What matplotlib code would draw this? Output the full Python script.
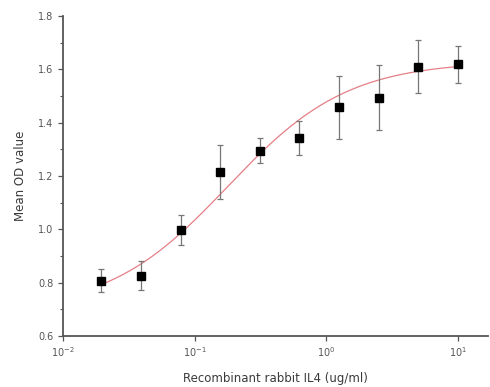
import matplotlib

matplotlib.use("Agg")
import matplotlib.pyplot as plt  # noqa: E402
import numpy as np  # noqa: E402
from matplotlib.ticker import FixedLocator, MultipleLocator  # noqa: E402

# measured points (concentration in ug/ml, mean OD, error)
conc = [0.0195, 0.039, 0.078, 0.156, 0.3125, 0.625, 1.25, 2.5, 5.0, 10.0]
mean_od = [0.807, 0.826, 0.997, 1.215, 1.295, 1.342, 1.457, 1.493, 1.610, 1.618]
od_err = [0.044, 0.054, 0.055, 0.100, 0.047, 0.064, 0.118, 0.122, 0.099, 0.068]

# 4-parameter logistic fit
fit_bottom = 0.69
fit_top = 1.63
fit_x0 = 0.178
fit_p = 0.95

xtick_vals = [0.01, 0.1, 1, 10]
xtick_labels = ["10$^{-2}$", "10$^{-1}$", "10$^{0}$", "10$^{1}$"]

fig = plt.figure(figsize=(4.9, 3.87), dpi=100)
ax = fig.add_axes([0.129, 0.132, 0.867, 0.827])

xs = np.logspace(np.log10(conc[0]), np.log10(conc[-1]), 200)
ys = fit_top + (fit_bottom - fit_top) / (1 + (xs / fit_x0) ** fit_p)
ax.plot(xs, ys, color="#e57f86", lw=0.9, zorder=2)

ax.errorbar(conc, mean_od, yerr=od_err, fmt="none", ecolor="#777777",
            elinewidth=0.9, capsize=2.5, capthick=0.9, zorder=3)
ax.plot(conc, mean_od, "s", color="black", ms=5.5, zorder=4)

ax.set_xscale("log")
ax.set_xlim(0.01, 10 ** 1.23)
ax.set_ylim(0.6, 1.8)
ax.xaxis.set_major_locator(FixedLocator(xtick_vals))
ax.set_xticks(xtick_vals, xtick_labels)
ax.xaxis.set_minor_locator(FixedLocator([]))
ax.yaxis.set_major_locator(MultipleLocator(0.2))
ax.yaxis.set_minor_locator(MultipleLocator(0.1))
ax.yaxis.set_major_formatter(plt.FuncFormatter(lambda v, _: f"{v:.1f}"))

for side in ("top", "right"):
    ax.spines[side].set_visible(False)
for side in ("left", "bottom"):
    ax.spines[side].set_color("#555555")
    ax.spines[side].set_linewidth(1.3)

ax.tick_params(which="major", length=3.5, width=0.9, color="#555555",
               labelsize=7, labelcolor="#555555")
ax.tick_params(which="minor", length=2, width=0.8, color="#555555")

ax.set_xlabel("Recombinant rabbit IL4 (ug/ml)", fontsize=8.5, color="#3a3a3a", labelpad=9)
ax.set_ylabel("Mean OD value", fontsize=8.5, color="#3a3a3a", labelpad=8)

fig.savefig("out.png", dpi=100)
